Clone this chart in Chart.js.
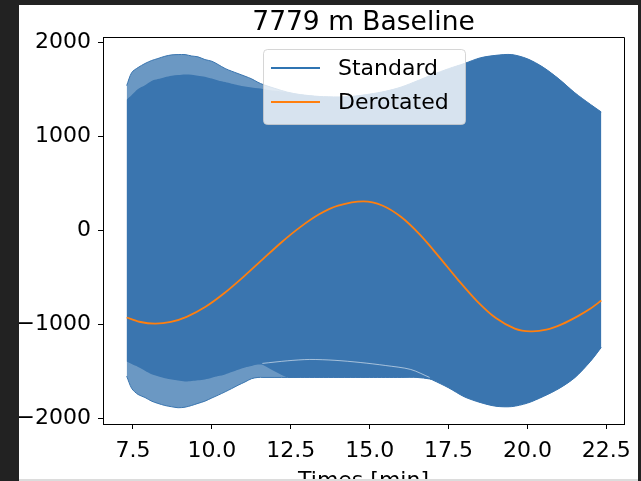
<!DOCTYPE html>
<html>
<head>
<meta charset="utf-8">
<script src="https://cdn.jsdelivr.net/npm/chart.js@4.4.0/dist/chart.umd.min.js"></script>
<style>
  html, body { margin: 0; padding: 0; background: #222; width: 641px; height: 481px; overflow: hidden; }
  #frame { position: absolute; left: 19px; top: 5px; width: 619px; height: 474px; overflow: hidden; background: #fff; }
  #myChart { position: absolute; left: -19px; top: -5px; }
  #strip { position: absolute; left: 19px; top: 479px; width: 619px; height: 2px; background: #dcdcdc; }
</style>
</head>
<body>
<div id="frame"><canvas id="myChart" width="641" height="481"></canvas></div>
<div id="strip"></div>
<script>
// envelope of the fast "Standard" signal (min), outer = spike tips, inner = solid body
const envTimes = [7.3, 7.46, 7.66, 7.88, 8.09, 8.29, 8.51, 8.73, 8.93, 9.15, 9.36, 9.56, 9.78, 10.0, 10.2, 10.42, 10.63, 10.83, 11.05, 11.26, 11.46, 11.62, 12.0, 12.4, 12.8, 13.4, 14.0, 14.4, 15.0, 15.5, 16.0, 16.5, 16.9, 17.0, 17.5, 18.0, 18.5, 19.0, 19.5, 20.0, 20.5, 21.0, 21.5, 22.0, 22.34];
const upperOuter = [1540, 1679, 1732, 1775, 1807, 1828, 1852, 1867, 1870, 1870, 1855, 1846, 1817, 1799, 1764, 1722, 1693, 1668, 1640, 1612, 1575, 1552, 1510, 1470, 1445, 1425, 1420, 1424, 1450, 1480, 1525, 1590, 1645, 1658, 1720, 1775, 1835, 1862, 1870, 1825, 1735, 1610, 1465, 1340, 1260];
const upperInner = [1390, 1440, 1505, 1545, 1590, 1610, 1630, 1645, 1652, 1658, 1655, 1645, 1635, 1615, 1595, 1578, 1560, 1545, 1530, 1520, 1512, 1505, 1485, 1470, 1445, 1425, 1420, 1424, 1450, 1480, 1525, 1590, 1645, 1658, 1720, 1775, 1835, 1862, 1870, 1825, 1735, 1610, 1465, 1340, 1260];
const lowerInner = [-1392, -1420, -1450, -1490, -1528, -1550, -1570, -1583, -1595, -1605, -1600, -1592, -1583, -1565, -1548, -1530, -1505, -1480, -1456, -1440, -1425, -1430, -1500, -1562, -1562, -1562, -1562, -1562, -1562, -1562, -1562, -1562, -1578, -1590, -1672, -1768, -1828, -1868, -1872, -1835, -1765, -1680, -1565, -1390, -1243];
const lowerOuter = [-1548, -1679, -1743, -1775, -1814, -1838, -1860, -1874, -1884, -1878, -1860, -1838, -1814, -1780, -1750, -1715, -1680, -1645, -1610, -1575, -1562, -1562, -1562, -1562, -1562, -1562, -1562, -1562, -1562, -1562, -1562, -1562, -1578, -1590, -1672, -1768, -1828, -1868, -1872, -1835, -1765, -1680, -1565, -1390, -1243];

// thin white streak along the lower band
const gapTimes = [11.6, 12.4, 13.1, 13.9, 14.7, 15.5, 16.3, 16.9];
const gapValues = [-1413, -1385, -1371, -1380, -1403, -1435, -1477, -1562];

const derotTimes = [7.3, 7.7, 8.2, 8.7, 9.2, 9.8, 10.4, 11.0, 11.6, 12.2, 12.8, 13.4, 14.0, 14.8, 15.4, 16.0, 16.6, 17.2, 17.8, 18.4, 19.0, 19.6, 20.1, 20.6, 21.1, 21.6, 22.0, 22.34];
const derotValues = [-925, -970, -990, -972, -918, -811, -665, -493, -309, -127, 36, 172, 264, 310, 266, 143, -47, -280, -524, -750, -931, -1043, -1073, -1055, -995, -910, -830, -745];

const xTicks = [7.5, 10.0, 12.5, 15.0, 17.5, 20.0, 22.5];
const yTicks = [-2000, -1000, 0, 1000, 2000];

const titleText = "7779 m Baseline";
const xLabel = "Times [min]";
const legendNames = ["Standard", "Derotated"];

const blue = "#3a75af";
const orange = "#ff7f0e";
const font = "DejaVu Sans";

function pts(xs, ys) {
    return xs.map((x, i) => ({ x: x, y: ys[i] }));
}

const extras = {
    id: "extras",
    afterDraw(chart) {
        const ctx = chart.ctx;
        const a = chart.chartArea;
        ctx.save();
        // top and right frame
        ctx.strokeStyle = "#000";
        ctx.lineWidth = 1;
        ctx.beginPath();
        ctx.moveTo(Math.round(a.left) + 0.5, Math.round(a.top) + 0.5);
        ctx.lineTo(Math.round(a.right) + 0.5, Math.round(a.top) + 0.5);
        ctx.lineTo(Math.round(a.right) + 0.5, Math.round(a.bottom) + 0.5);
        ctx.stroke();

        // title + x label
        const cx = (a.left + a.right) / 2;
        ctx.fillStyle = "#000";
        ctx.textAlign = "center";
        ctx.textBaseline = "alphabetic";
        ctx.font = "26.5px '" + font + "'";
        ctx.fillText(titleText, cx, 30);
        ctx.font = "22px '" + font + "'";
        ctx.fillText(xLabel, cx, 487);

        // legend
        const lx = 263, ly = 49, lw = 202, lh = 75;
        ctx.beginPath();
        ctx.roundRect(lx + 0.5, ly + 0.5, lw, lh, 4);
        ctx.fillStyle = "rgba(255,255,255,0.8)";
        ctx.fill();
        ctx.strokeStyle = "rgba(204,204,204,0.8)";
        ctx.stroke();
        const rows = [[legendNames[0], "#2f74b2", 68], [legendNames[1], orange, 102]];
        ctx.textAlign = "left";
        ctx.textBaseline = "middle";
        ctx.font = "22px '" + font + "'";
        rows.forEach(r => {
            ctx.strokeStyle = r[1];
            ctx.lineWidth = 2;
            ctx.beginPath();
            ctx.moveTo(271, r[2]);
            ctx.lineTo(320, r[2]);
            ctx.stroke();
            ctx.fillStyle = "#000";
            ctx.fillText(r[0], 338, r[2] + 1);
        });
        ctx.restore();
    }
};

const clear = "rgba(0,0,0,0)";

new Chart(document.getElementById("myChart"), {
    type: "line",
    data: {
        datasets: [
            { label: legendNames[1], data: pts(derotTimes, derotValues), borderColor: orange, borderWidth: 1.8, order: 0, fill: false },
            { label: "gap", data: pts(gapTimes, gapValues), borderColor: "rgba(255,255,255,0.55)", borderWidth: 1, order: 1, fill: false },
            { label: legendNames[0], data: pts(envTimes, upperInner), borderColor: clear, borderWidth: 1, backgroundColor: blue, fill: "+1", order: 2 },
            { label: "lowerInner", data: pts(envTimes, lowerInner), borderColor: clear, borderWidth: 1, fill: false, order: 3 },
            { label: "upperOuter", data: pts(envTimes, upperOuter), borderColor: blue, borderWidth: 1, backgroundColor: "rgba(58,117,175,0.75)", fill: "+1", order: 4 },
            { label: "lowerOuter", data: pts(envTimes, lowerOuter), borderColor: blue, borderWidth: 1, fill: false, order: 5 }
        ]
    },
    options: {
        responsive: false,
        animation: false,
        events: [],
        layout: { padding: { left: 0, right: 17, top: 37, bottom: 0 } },
        elements: {
            point: { radius: 0 },
            line: { tension: 0.3 }
        },
        plugins: {
            legend: { display: false },
            title: { display: false },
            tooltip: { enabled: false }
        },
        scales: {
            x: {
                type: "linear",
                min: 6.55,
                max: 23.06,
                afterFit: s => { s.height = 57; },
                afterBuildTicks: s => { s.ticks = xTicks.map(v => ({ value: v })); },
                border: { color: "#000", width: 1 },
                grid: { drawOnChartArea: false, drawTicks: true, tickLength: 5, tickColor: "#000" },
                ticks: {
                    autoSkip: false,
                    maxRotation: 0,
                    padding: 9,
                    color: "#000",
                    font: { family: font, size: 22 },
                    callback: v => v.toFixed(1)
                }
            },
            y: {
                min: -2057,
                max: 2057,
                afterFit: s => { s.width = 103; },
                afterBuildTicks: s => { s.ticks = yTicks.map(v => ({ value: v })); },
                border: { color: "#000", width: 1 },
                grid: { drawOnChartArea: false, drawTicks: true, tickLength: 5, tickColor: "#000" },
                ticks: {
                    autoSkip: false,
                    padding: 7,
                    color: "#000",
                    font: { family: font, size: 22 },
                    callback: v => String(v).replace("-", "\u2212")
                }
            }
        }
    },
    plugins: [extras]
});
</script>
</body>
</html>
